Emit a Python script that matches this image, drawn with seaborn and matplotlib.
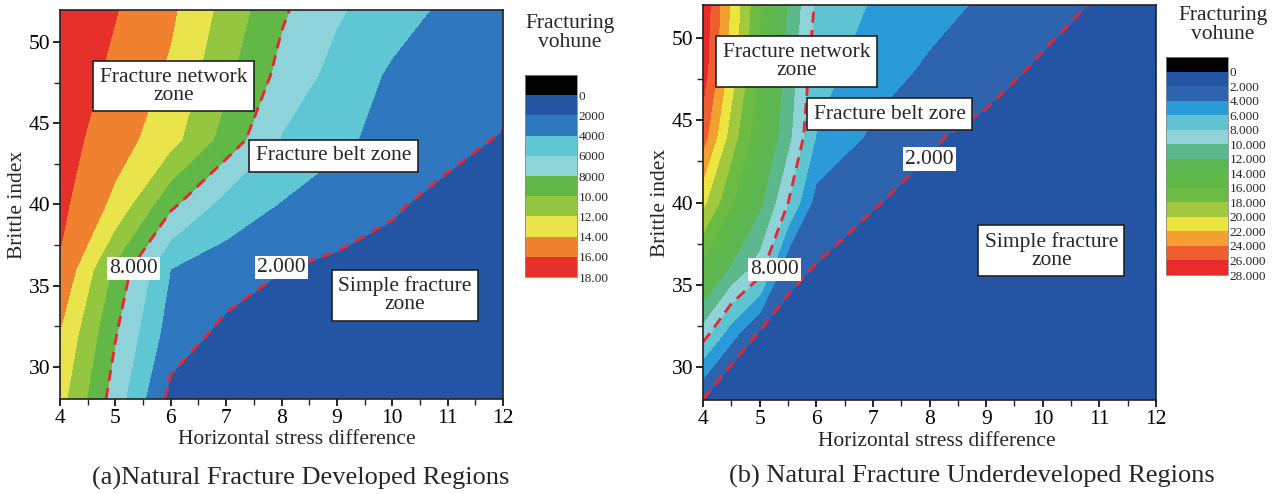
import matplotlib
matplotlib.use("Agg")
import matplotlib.pyplot as plt
from matplotlib.ticker import MultipleLocator
import numpy as np
import seaborn as sns

# ---- panel (a): natural fracture developed regions ----
stress_a = [4, 5, 6, 7, 8, 9, 10, 11, 12]
brittle_a = [28, 32, 36, 40, 44, 48, 52]
# fracturing volume in thousands, one row per brittle index
volume_a = [
    [12.7, 7.05, 1.4, 1.2, 1.1, 1.0, 1.0, 1.0, 1.0],
    [13.9, 8.13, 3.0, 1.5, 1.4, 1.2, 1.1, 1.0, 1.0],
    [15.8, 9.5, 3.97, 3.0, 2.03, 1.6, 1.3, 1.1, 1.0],
    [16.5, 13.47, 8.45, 5.2, 3.89, 3.06, 2.23, 1.4, 1.0],
    [16.83, 14.9, 12.71, 9.2, 5.85, 4.37, 3.41, 2.62, 1.83],
    [17.3, 15.55, 13.67, 10.43, 7.41, 5.29, 3.7, 3.3, 3.0],
    [17.6, 16.1, 14.35, 11.3, 8.29, 6.27, 4.85, 3.6, 2.9],
]
levels_a = [-2, 0, 2, 4, 6, 8, 10, 12, 14, 16, 18]
colors_a = ["#000000", "#2454a4", "#2f78bf", "#5fc7d3", "#8ed3d9",
            "#62b846", "#95c640", "#e9e44b", "#f0822f", "#e8302a"]
ticks_a = [0, 2, 4, 6, 8, 10, 12, 14, 16, 18]
ticklabels_a = ["0", "2000", "4000", "6000", "8000",
                "10.00", "12.00", "14.00", "16.00", "18.00"]

# ---- panel (b): natural fracture underdeveloped regions ----
stress_b = [4, 4.5, 5, 5.5, 6, 7, 8, 9, 10, 11, 12]
brittle_b = [28, 30, 32, 36, 40, 44, 48, 52]
volume_b = [
    [1.9, 1.5, 1.2, 1.0, 1.0, 1.0, 1.0, 1.0, 1.0, 1.0, 1.0],
    [5.1, 1.8, 1.3, 1.1, 1.0, 1.0, 1.0, 1.0, 1.0, 1.0, 1.0],
    [8.9, 4.82, 1.7, 1.3, 1.1, 1.0, 1.0, 1.0, 1.0, 1.0, 1.0],
    [15.1, 11.68, 9.0, 2.47, 1.91, 1.3, 1.1, 1.0, 1.0, 1.0, 1.0],
    [20.5, 16.23, 12.46, 8.05, 3.2, 2.1, 1.5, 1.2, 1.0, 1.0, 1.0],
    [24.9, 19.0, 14.55, 10.55, 5.92, 3.63, 2.2, 1.5, 1.2, 1.0, 1.0],
    [27.0, 21.0, 15.55, 11.23, 6.8, 4.88, 3.67, 2.68, 1.69, 1.3, 1.0],
    [27.5, 21.67, 16.17, 11.8, 7.7, 5.79, 4.71, 3.67, 2.74, 1.81, 1.0],
]
levels_b = [-2, 0, 2, 4, 6, 8, 10, 12, 14, 16, 18, 20, 22, 24, 26, 28]
colors_b = ["#000000", "#2454a4", "#2e63ae", "#2a9bd8", "#5fc4d2", "#8fd2d8",
            "#5db98b", "#5cb752", "#5fb848", "#6cbb42", "#a2c83e",
            "#ece43f", "#f4a031", "#ef5e2e", "#e82a2a"]
ticks_b = [0, 2, 4, 6, 8, 10, 12, 14, 16, 18, 20, 22, 24, 26, 28]
ticklabels_b = ["0", "2.000", "4.000", "6.000", "8.000", "10.000", "12.000",
                "14.000", "16.000", "18.000", "20.000", "22.000", "24.000",
                "26.000", "28.000"]

dashed_levels = [2, 8]
dashed_labels = ["2.000", "8.000"]
zone_texts_a = ["Fracture network\nzone", "Fracture belt zone", "Simple fracture\nzone"]
zone_texts_b = ["Fracture network\nzone", "Fracture belt zore", "Simple fracture\nzone"]
captions = ["(a)Natural Fracture Developed Regions",
            "(b) Natural Fracture Underdeveloped Regions"]

sns.set_style("ticks")
plt.rcParams["font.family"] = ["Liberation Serif", "DejaVu Serif"]
plt.rcParams["mathtext.fontset"] = "stix"
FS = 15.5
RED = "#e8262e"


def draw_panel(ax, cax, x, y, z, levels, colors, ticks, ticklabels,
               zone_texts, zone_pos, label_pos, cbar_fs):
    X, Y = np.meshgrid(x, y)
    Z = np.array(z)
    cf = ax.contourf(X, Y, Z, levels=levels, colors=colors)
    ax.contour(X, Y, Z, levels=dashed_levels, colors=RED,
               linestyles=[(0, (4, 2.6))], linewidths=2)
    ax.set_xlim(4, 12)
    ax.set_ylim(28, 52)
    ax.xaxis.set_major_locator(MultipleLocator(1))
    ax.xaxis.set_minor_locator(MultipleLocator(0.5))
    ax.yaxis.set_major_locator(MultipleLocator(5))
    ax.yaxis.set_minor_locator(MultipleLocator(2.5))
    ax.tick_params(which="major", direction="out", length=5, width=1.2,
                   labelsize=FS, pad=2, colors="black")
    ax.tick_params(which="minor", direction="out", length=4, width=1.0)
    for s in ax.spines.values():
        s.set_color("#222222")
        s.set_linewidth(1.2)

    for txt, (px, py) in zip(zone_texts, zone_pos):
        ax.text(px, py, txt, ha="center", va="center", fontsize=FS,
                linespacing=0.95,
                bbox=dict(boxstyle="square,pad=0.3", fc="white", ec="#222222", lw=1.2))
    for txt, (px, py) in zip(dashed_labels, label_pos):
        ax.text(px, py, txt, ha="center", va="center", fontsize=FS,
                bbox=dict(boxstyle="square,pad=0.1", fc="white", ec="none"))

    cb = plt.colorbar(cf, cax=cax, ticks=ticks)
    cax.invert_yaxis()
    cb.set_ticklabels(ticklabels)
    cax.tick_params(length=0, labelsize=cbar_fs, pad=1)
    cb.outline.set_linewidth(0.6)
    cb.outline.set_edgecolor("#888888")
    return cf


fig = plt.figure(figsize=(12.79, 4.94), dpi=100)
ax_a = fig.add_axes([60 / 1279, 95 / 494, 443 / 1279, 389 / 494])
cax_a = fig.add_axes([525 / 1279, 217 / 494, 52 / 1279, 202 / 494])
ax_b = fig.add_axes([703 / 1279, 94 / 494, 453 / 1279, 395 / 494])
cax_b = fig.add_axes([1166 / 1279, 219 / 494, 62 / 1279, 218 / 494])

draw_panel(ax_a, cax_a, stress_a, brittle_a, volume_a, levels_a, colors_a,
           ticks_a, ticklabels_a, zone_texts_a,
           [(6.05, 47.3), (8.94, 43.0), (10.23, 34.4)],
           [(8.0, 36.1), (5.32, 36.07)], 9.5)
draw_panel(ax_b, cax_b, stress_b, brittle_b, volume_b, levels_b, colors_b,
           ticks_b, ticklabels_b, zone_texts_b,
           [(5.65, 48.57), (7.30, 45.35), (10.15, 37.06)],
           [(8.0, 42.64), (5.26, 35.95)], 9.5)

for ax, yl in [(ax_a, -0.097), (ax_b, -0.093)]:
    ax.set_xlabel("Horizontal stress difference", fontsize=FS, va="center")
    ax.set_ylabel("Brittle index", fontsize=FS, va="center")
    ax.yaxis.set_label_coords(yl, 0.5)
ax_a.xaxis.set_label_coords(0.535, -0.105)
ax_b.xaxis.set_label_coords(0.517, -0.105)

fig.text(570 / 1279, 1 - 33 / 494, "Fracturing\nvohune", ha="center", va="center",
         fontsize=FS, linespacing=1.0)
fig.text(1223 / 1279, 1 - 25 / 494, "Fracturing\nvohune", ha="center", va="center",
         fontsize=FS, linespacing=1.0)
fig.text(301 / 1279, 1 - 478 / 494, captions[0], ha="center", va="center", fontsize=19)
fig.text(972 / 1279, 1 - 476 / 494, captions[1], ha="center", va="center", fontsize=19)

fig.savefig("out.png", dpi=100)
